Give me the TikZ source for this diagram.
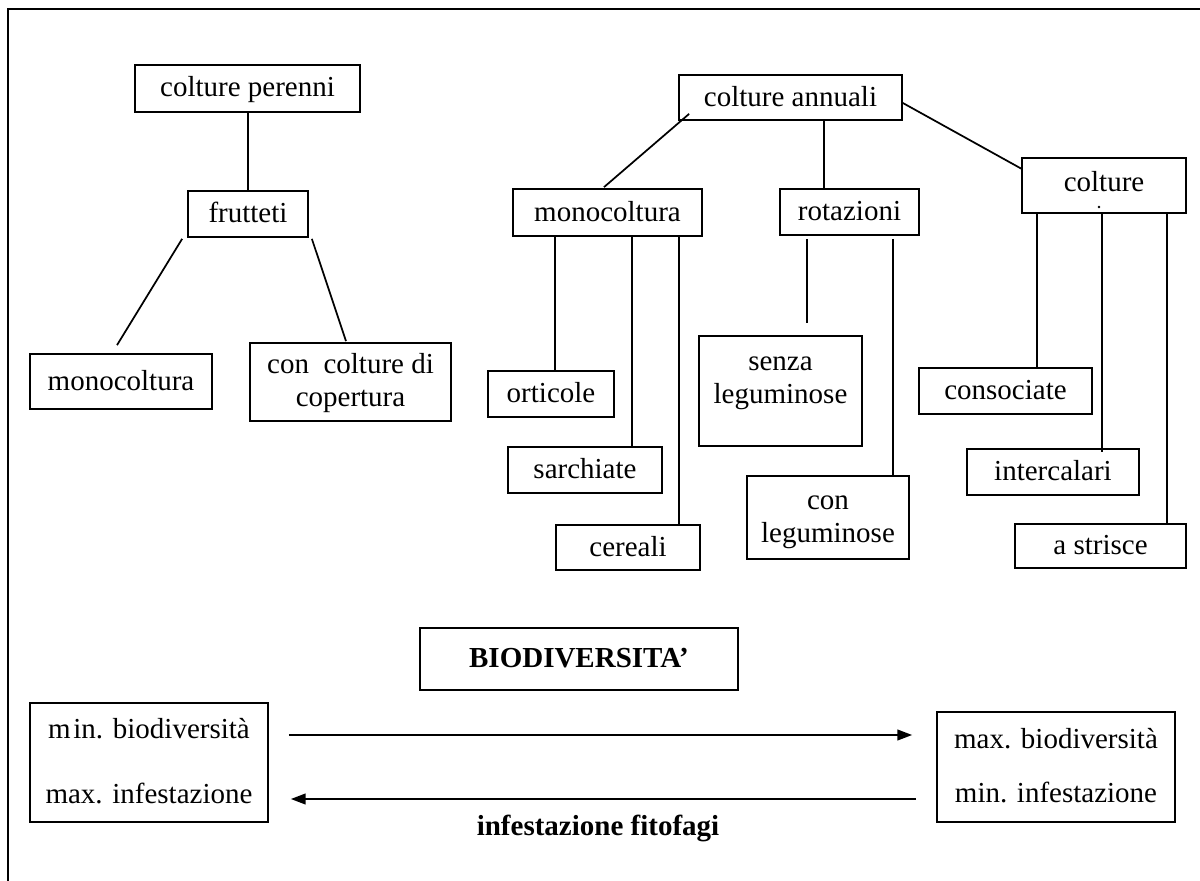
\documentclass[tikz,border=0pt]{standalone}
\usepackage{fontspec}
\setmainfont{Liberation Serif}
\usetikzlibrary{calc,arrows.meta}
\newcommand\fs{\fontsize{21.75}{24.75}\selectfont}
\newcommand\st{\rule[-4pt]{0pt}{21pt}}
\newcommand\mybox[6]{\node[bx, minimum width={(#4-#2)*0.75pt}, minimum height={(#5-#3)*0.75pt}] (#1) at ({(#2+#4)/2},{(#3+#5)/2}) {#6};}
\tikzset{
  bx/.style={draw, line width=1.3pt, inner sep=0pt, font=\fs, align=center, fill=white},
  ln/.style={line width=1.3pt},
  arr/.style={line width=1.3pt, -{Triangle[length=11pt,width=8pt]}},
  lbl/.style={font=\fs, align=center, inner sep=0pt}
}
\begin{document}
\begin{tikzpicture}[x=0.75pt,y=-0.75pt]
\useasboundingbox (0,0) rectangle (1200,881);
\draw[line width=1pt] (8,881) -- (8,9) -- (1200,9);
% boxes
\mybox{perenni}{135}{65}{360}{112}{\st colture perenni}
\mybox{frutteti}{188}{191}{308}{237}{\st frutteti}
\mybox{monoL}{30}{354}{212}{409}{\st monocoltura}
\mybox{copertura}{250}{343}{451}{421}{\st con\ \ colture di\\copertura\st}
\mybox{annuali}{679}{75}{902}{120}{\st colture annuali}
\mybox{monoM}{513}{189}{702}{236}{\st monocoltura}
\mybox{rot}{780}{189}{919}{235}{\st rotazioni}
\mybox{coltureR}{1022}{158}{1186}{213}{}
\node[lbl] (coltureT) at (1104,183) {\st colture};
\fill (1099,207) circle (1.4);
\mybox{orticole}{488}{371}{614}{417}{\st orticole}
\mybox{sarchiate}{508}{447}{662}{493}{\st sarchiate}
\mybox{cereali}{556}{525}{700}{570}{\st cereali}
\mybox{senza}{699}{336}{862}{446}{}
\node[lbl] (senzaT) at ($(senza.center)+(0,-12)$) {\st senza\\leguminose\st};
\mybox{conleg}{747}{476}{909}{559}{\st con\\leguminose\st}
\mybox{consociate}{919}{368}{1092}{414}{\st consociate}
\mybox{intercalari}{967}{449}{1139}{495}{\st intercalari}
\mybox{strisce}{1015}{524}{1186}{568}{\st a strisce}
\mybox{biodiv}{420}{628}{738}{690}{\st\textbf{BIODIVERSITA'}}
\mybox{minB}{30}{703}{268}{822}{\st m\kern2pt in. biodiversità\\[24pt]max. infestazione\st}
\mybox{maxB}{937}{712}{1175}{822}{\st max. biodiversità\\[16pt]min. infestazione\st}
\node[lbl, font=\fs\bfseries] (fito) at (598,828) {infestazione fitofagi};
% connectors
\draw[ln] (frutteti.north) -- (frutteti.north |- perenni.south);
\draw[ln] ($(frutteti.south west)+(-5,1)$) -- ($(monoL.north)+(-4,-8)$);
\draw[ln] ($(frutteti.south east)+(3,1)$) -- ($(copertura.north)+(-4.5,-1)$);
\draw[ln] ($(annuali.south west)+(11,-7)$) -- ($(monoM.north)+(-3.5,-1)$);
\draw[ln] ($(rot.north)+(-25.5,0)$) coordinate (r1) -- (r1 |- annuali.south);
\draw[ln] ($(annuali.east)+(0,5.5)$) -- ($(coltureR.north west)+(1,12)$);
% monocoltura children
\coordinate (m1) at ($(monoM.south west)+(43,0)$);
\coordinate (m2) at ($(monoM.south west)+(120,0)$);
\coordinate (m3) at ($(monoM.south west)+(167,0)$);
\draw[ln] (m1) -- (m1 |- orticole.north);
\draw[ln] (m2) -- (m2 |- sarchiate.north);
\draw[ln] (m3) -- (m3 |- cereali.north);
% rotazioni children
\coordinate (r2) at ($(rot.south west)+(28,3)$);
\coordinate (r3) at ($(rot.south west)+(114,3)$);
\draw[ln] (r2) -- ($(r2 |- senza.north)+(0,-12)$);
\draw[ln] (r3) -- (r3 |- conleg.north);
% colture children
\coordinate (c1) at ($(coltureR.south west)+(16,0)$);
\coordinate (c2) at ($(coltureR.south west)+(81,0)$);
\coordinate (c3) at ($(coltureR.south west)+(146,0)$);
\draw[ln] (c1) -- (c1 |- consociate.north);
\draw[ln] (c2) -- ($(c2 |- intercalari.north)+(0,4)$);
\draw[ln] (c3) -- (c3 |- strisce.north);
% arrows
\draw[arr] ($(minB.east)+(20,-27.5)$) -- ($(maxB.west)+(-24,-32)$);
\draw[arr] ($(maxB.west)+(-20,32)$) -- ($(minB.east)+(22,36.5)$);
\end{tikzpicture}
\end{document}
